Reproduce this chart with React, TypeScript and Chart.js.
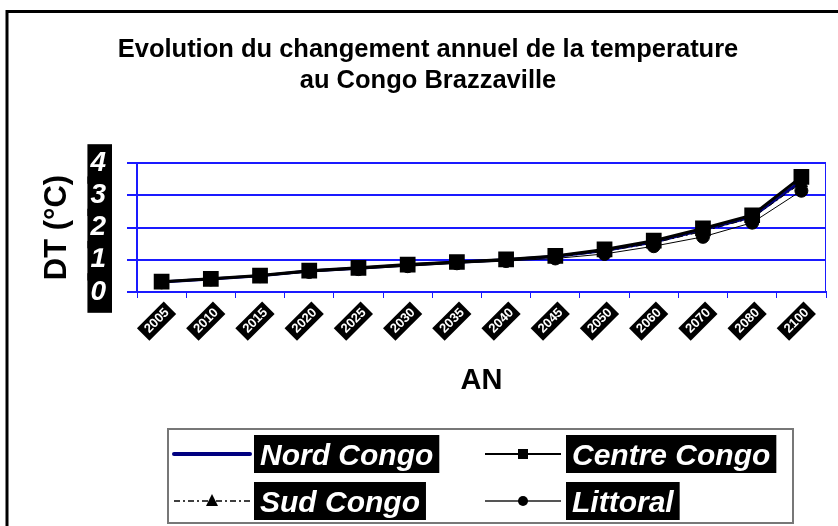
import React, { useEffect, useRef } from "react";
import { Chart, registerables } from "chart.js";

Chart.register(...registerables);

const FONT = "'Liberation Sans', Arial, Helvetica, sans-serif";

const titleLines = ["Evolution du changement annuel de la temperature", "au Congo Brazzaville"];
const xAxisTitle = "AN";
const yAxisTitle = "DT (°C)";

const years = ["2005", "2010", "2015", "2020", "2025", "2030", "2035", "2040", "2045", "2050", "2060", "2070", "2080", "2100"];
const nordCongo = [0.31, 0.4, 0.5, 0.65, 0.74, 0.84, 0.92, 1.0, 1.1, 1.29, 1.55, 1.93, 2.33, 3.45];
const centreCongo = [0.32, 0.41, 0.51, 0.66, 0.75, 0.85, 0.93, 1.01, 1.12, 1.32, 1.59, 1.97, 2.38, 3.57];
const sudCongo = [0.31, 0.4, 0.5, 0.64, 0.73, 0.83, 0.91, 0.99, 1.08, 1.26, 1.52, 1.88, 2.3, 3.38];
const littoral = [0.3, 0.39, 0.49, 0.62, 0.71, 0.8, 0.89, 0.96, 1.04, 1.18, 1.42, 1.71, 2.15, 3.14];
const yMin = 0;
const yMax = 4;
const yStep = 1;

const GRID_BLUE = "#1a1aff";

const decorPlugin = {
  id: "decor",
  beforeDraw(chart: any) {
    const ctx = chart.ctx;
    ctx.save();
    ctx.fillStyle = "#fff";
    ctx.fillRect(0, 0, chart.width, chart.height);
    ctx.strokeStyle = "#000";
    ctx.lineWidth = 3;
    ctx.beginPath();
    ctx.moveTo(7, 700);
    ctx.lineTo(7, 11.5);
    ctx.lineTo(1000, 11.5);
    ctx.stroke();
    ctx.fillStyle = "#000";
    ctx.font = `bold 25.5px ${FONT}`;
    ctx.textAlign = "center";
    ctx.textBaseline = "alphabetic";
    ctx.fillText(titleLines[0], 428, 57);
    ctx.fillText(titleLines[1], 428, 88);
    ctx.restore();
  },
  beforeDatasetsDraw(chart: any) {
    const { ctx, chartArea } = chart;
    ctx.save();
    ctx.strokeStyle = GRID_BLUE;
    ctx.lineWidth = 1;
    ctx.beginPath();
    ctx.moveTo(Math.round(chartArea.right) - 0.5, chartArea.top);
    ctx.lineTo(Math.round(chartArea.right) - 0.5, chartArea.bottom);
    ctx.stroke();
    ctx.restore();
  },
  afterDraw(chart: any) {
    const ctx = chart.ctx;
    ctx.save();
    ctx.strokeStyle = "#777";
    ctx.lineWidth = 2;
    ctx.strokeRect(168, 429, 625, 94);
    const colLine = [174, 485];
    const colText = [254, 566];
    const rows = [454, 501];
    chart.data.datasets.forEach((ds: any, i: number) => {
      const col = i % 2;
      const row = Math.floor(i / 2);
      const y = rows[row];
      const x0 = colLine[col];
      const x1 = x0 + 76;
      ctx.save();
      ctx.strokeStyle = ds.legendLineColor || ds.borderColor;
      ctx.lineWidth = ds.legendLineWidth || ds.borderWidth;
      ctx.lineCap = ds.legendCap || "butt";
      ctx.setLineDash(ds.borderDash || []);
      ctx.beginPath();
      ctx.moveTo(x0, y);
      ctx.lineTo(x1, y);
      ctx.stroke();
      ctx.setLineDash([]);
      const cx = (x0 + x1) / 2;
      ctx.fillStyle = "#000";
      if (ds.pointStyle === "rect") {
        ctx.fillRect(cx - 5, y - 5, 10, 10);
      } else if (ds.pointStyle === "triangle") {
        ctx.beginPath();
        ctx.moveTo(cx, y - 7);
        ctx.lineTo(cx + 6, y + 5);
        ctx.lineTo(cx - 6, y + 5);
        ctx.closePath();
        ctx.fill();
      } else if (ds.pointStyle === "circle") {
        ctx.beginPath();
        ctx.arc(cx, y, 5, 0, Math.PI * 2);
        ctx.fill();
      }
      ctx.restore();
      ctx.font = `italic bold 30px ${FONT}`;
      const w = ctx.measureText(ds.label).width;
      const tx = colText[col];
      ctx.fillStyle = "#000";
      ctx.fillRect(tx, y - 19, w + 12, 38);
      ctx.fillStyle = "#fff";
      ctx.textAlign = "left";
      ctx.textBaseline = "alphabetic";
      ctx.fillText(ds.label, tx + 6, y + 11);
    });
    ctx.restore();
  },
};

export default function App() {
  const canvasRef = useRef<HTMLCanvasElement | null>(null);

  useEffect(() => {
    if (!canvasRef.current) return;
    const chart = new Chart(canvasRef.current, {
      type: "line",
      data: {
        labels: years,
        datasets: [
          {
            label: "Nord Congo",
            data: nordCongo,
            borderColor: "#000080",
            borderWidth: 3,
            pointRadius: 0,
            order: 3,
            legendLineWidth: 4,
            legendCap: "round",
          } as any,
          {
            label: "Centre Congo",
            data: centreCongo,
            borderColor: "#000",
            borderWidth: 3,
            pointStyle: "rect",
            pointRadius: 9,
            pointBackgroundColor: "#000",
            pointBorderColor: "#000",
            order: 0,
            legendLineWidth: 2,
          } as any,
          {
            label: "Sud Congo",
            data: sudCongo,
            borderColor: "#000",
            borderWidth: 1,
            borderDash: [6, 3, 2, 3],
            pointStyle: "triangle",
            pointRadius: 7,
            pointBackgroundColor: "#000",
            pointBorderColor: "#000",
            order: 2,
            legendLineWidth: 1.5,
          } as any,
          {
            label: "Littoral",
            data: littoral,
            borderColor: "#000",
            borderWidth: 1,
            pointStyle: "circle",
            pointRadius: 6.5,
            pointBackgroundColor: "#000",
            pointBorderColor: "#000",
            order: 1,
            legendLineColor: "#555",
            legendLineWidth: 2,
          } as any,
        ],
      },
      options: {
        responsive: false,
        animation: false,
        events: [],
        devicePixelRatio: 1,
        layout: { padding: { left: 0, top: 163, right: 12, bottom: 124 } },
        plugins: {
          legend: { display: false },
          title: { display: false },
          tooltip: { enabled: false },
        },
        elements: { line: { tension: 0 } },
        scales: {
          x: {
            type: "category",
            offset: true,
            grid: { offset: true, drawOnChartArea: false, drawTicks: true, tickLength: 6, color: GRID_BLUE, lineWidth: 1 },
            border: { color: GRID_BLUE, width: 2 },
            ticks: {
              color: "#fff",
              font: { size: 13, weight: "bold", family: FONT },
              minRotation: 45,
              maxRotation: 45,
              autoSkip: false,
              padding: 7,
              showLabelBackdrop: true,
              backdropColor: "#000",
              backdropPadding: { top: 1, bottom: 1, left: 5, right: 4 },
            } as any,
            title: {
              display: true,
              text: xAxisTitle,
              color: "#000",
              font: { size: 29, weight: "bold", family: FONT },
              padding: { top: 0, bottom: 4 },
            },
            afterFit(scale: any) {
              scale.height = 110;
            },
          },
          y: {
            min: yMin,
            max: yMax,
            ticks: {
              stepSize: yStep,
              autoSkip: false,
              color: "#fff",
              font: { size: 28, weight: "bold", style: "italic", family: FONT },
              padding: 21,
              showLabelBackdrop: true,
              backdropColor: "#000",
              backdropPadding: { top: 2, bottom: 4, left: 3, right: 6 },
            } as any,
            grid: { color: GRID_BLUE, lineWidth: 2, tickLength: 10 },
            border: { color: GRID_BLUE, width: 2 },
            title: {
              display: true,
              text: yAxisTitle,
              color: "#000",
              font: { size: 31, weight: "bold", family: FONT },
              padding: { top: 39, bottom: 0 },
            },
            afterFit(scale: any) {
              scale.width = 137;
            },
          },
        },
      },
      plugins: [decorPlugin],
    });
    return () => chart.destroy();
  }, []);

  return (
    <div style={{ position: "absolute", left: 0, top: 0, width: 838, height: 526 }}>
      <canvas ref={canvasRef} width={838} height={526} style={{ display: "block" }} />
    </div>
  );
}
